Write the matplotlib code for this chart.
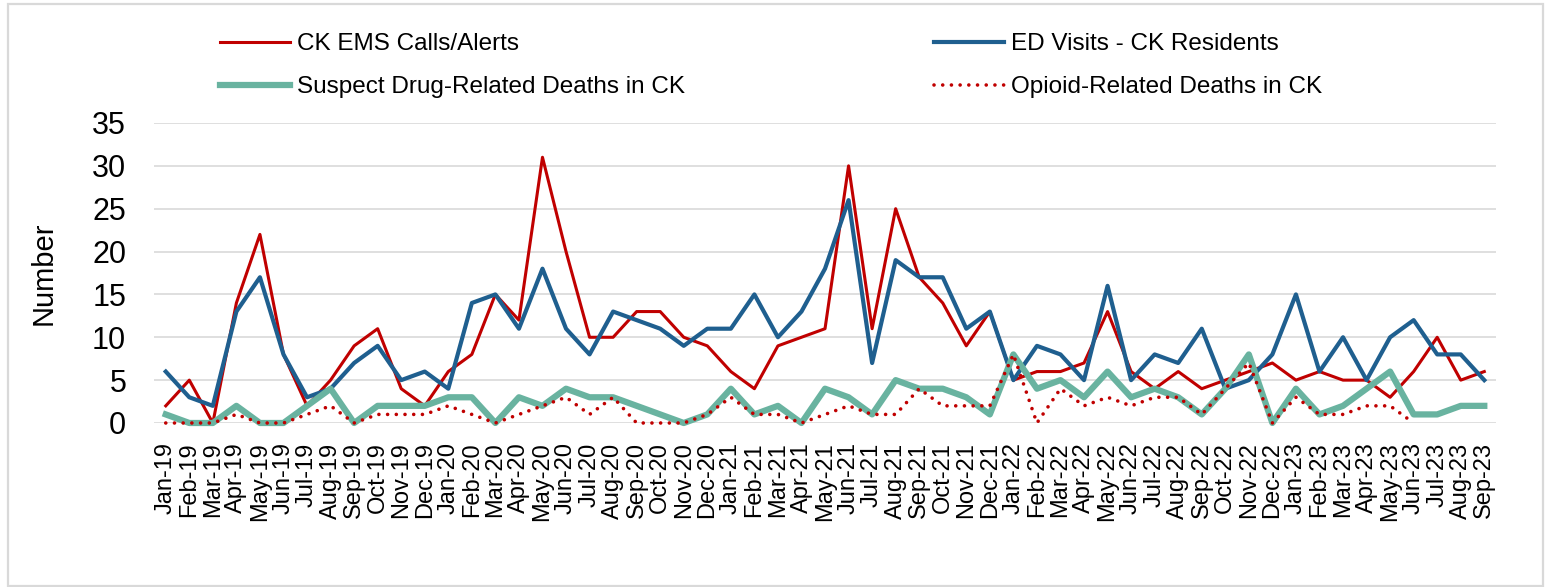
import numpy as np
import matplotlib
matplotlib.use("Agg")
import matplotlib.pyplot as plt
from matplotlib.patches import Rectangle

plt.rcParams['font.family'] = ['Liberation Sans', 'DejaVu Sans']

# monthly counts, Jan-19 .. Sep-23
mon = ['Jan', 'Feb', 'Mar', 'Apr', 'May', 'Jun', 'Jul', 'Aug', 'Sep', 'Oct', 'Nov', 'Dec']
years = ['19', '20', '21', '22', '23']
labels = [m + '-' + y for y in years for m in mon][:57]

ems = [2, 5, 0, 14, 22, 8, 2, 5, 9, 11, 4, 2,
       6, 8, 15, 12, 31, 20, 10, 10, 13, 13, 10, 9,
       6, 4, 9, 10, 11, 30, 11, 25, 17, 14, 9, 13,
       5, 6, 6, 7, 13, 6, 4, 6, 4, 5, 6, 7,
       5, 6, 5, 5, 3, 6, 10, 5, 6]
ed = [6, 3, 2, 13, 17, 8, 3, 4, 7, 9, 5, 6,
      4, 14, 15, 11, 18, 11, 8, 13, 12, 11, 9, 11,
      11, 15, 10, 13, 18, 26, 7, 19, 17, 17, 11, 13,
      5, 9, 8, 5, 16, 5, 8, 7, 11, 4, 5, 8,
      15, 6, 10, 5, 10, 12, 8, 8, 5]
suspect = [1, 0, 0, 2, 0, 0, 2, 4, 0, 2, 2, 2,
           3, 3, 0, 3, 2, 4, 3, 3, 2, 1, 0, 1,
           4, 1, 2, 0, 4, 3, 1, 5, 4, 4, 3, 1,
           8, 4, 5, 3, 6, 3, 4, 3, 1, 4, 8, 0,
           4, 1, 2, 4, 6, 1, 1, 2, 2]
opioid = [0, 0, 0, 1, 0, 0, 1, 2, 0, 1, 1, 1,
          2, 1, 0, 1, 2, 3, 1, 3, 0, 0, 0, 1,
          3, 1, 1, 0, 1, 2, 1, 1, 4, 2, 2, 2,
          8, 0, 4, 2, 3, 2, 3, 3, 1, 4, 7, 0,
          3, 1, 1, 2, 2, 0, np.nan, np.nan, np.nan]

x = np.arange(len(labels))

fig = plt.figure(figsize=(15.46, 5.87), dpi=100)
ax = fig.add_axes([0.0996, 0.2794, 0.8681, 0.5111])

l1, = ax.plot(x, ems, color='#C00000', lw=2.2, label='CK EMS Calls/Alerts', clip_on=False, zorder=3)
l3, = ax.plot(x, ed, color='#1F5F8F', lw=3.0, label='ED Visits - CK Residents', clip_on=False, zorder=4)
l2, = ax.plot(x, suspect, color='#69B3A0', lw=4.5, label='Suspect Drug-Related Deaths in CK', clip_on=False, zorder=5)
l4, = ax.plot(x, opioid, color='#C00000', lw=2.6, linestyle=(0, (0.01, 2.4)), dash_capstyle='round',
              label='Opioid-Related Deaths in CK', clip_on=False, zorder=6)

ax.set_xlim(-0.5, len(labels) - 0.5)
ax.set_ylim(0, 35)
ax.set_yticks(range(0, 36, 5))
ax.set_xticks(x)
ax.set_xticklabels(labels, rotation=90, fontsize=17)
ax.tick_params(axis='y', labelsize=22, length=0, pad=20)
ax.tick_params(axis='x', length=0, pad=14)
ax.grid(axis='y', color='#d9d9d9', lw=1.2)
ax.set_axisbelow(True)
for s in ax.spines.values():
    s.set_visible(False)
ax.set_ylabel('Number', fontsize=21)
ax.yaxis.set_label_coords(-0.072, 0.5)

fig.legend(handles=[l1, l2, l3, l4], loc='upper left', bbox_to_anchor=(220 / 1546, 1 - 33 / 587),
           ncol=2, frameon=False, fontsize=17.5, handlelength=2.88, handletextpad=0.29,
           columnspacing=10.25, labelspacing=0.87, borderpad=0, borderaxespad=0)

fig.patches.append(Rectangle((8 / 1546, 1 / 587), 1535 / 1546, 582 / 587, transform=fig.transFigure,
                             fill=False, edgecolor='#d9d9d9', lw=1.6))

fig.savefig('out.png', dpi=100)
